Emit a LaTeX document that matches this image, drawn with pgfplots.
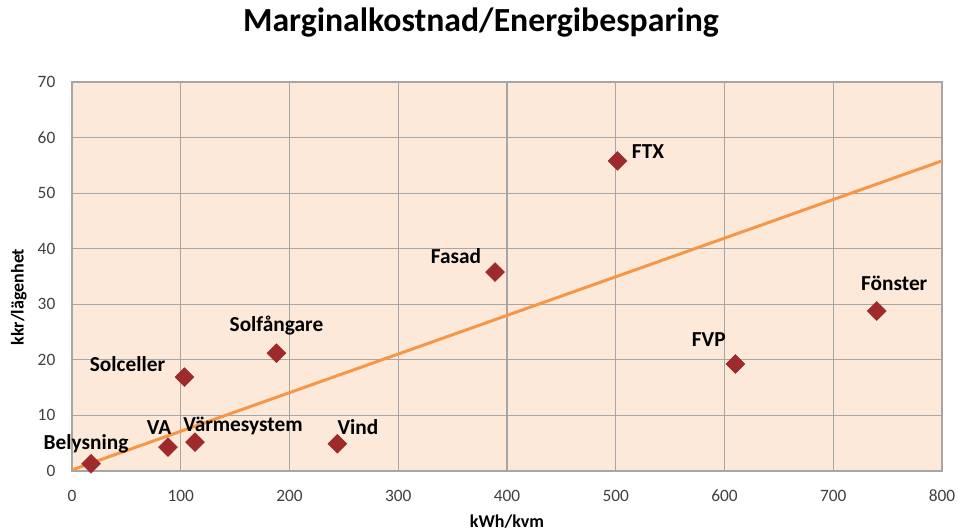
\documentclass[border=0pt]{standalone}
\usepackage{pgfplots}
\pgfplotsset{compat=1.18}
\usepackage{fontspec}
\setmainfont{Carlito}
\definecolor{bgpeach}{HTML}{FDE9D9}
\definecolor{gridgray}{HTML}{A6A6A6}
\definecolor{trend}{HTML}{F79646}
\definecolor{mk}{HTML}{9E2A2B}
\definecolor{ticktext}{HTML}{404040}
\begin{document}
\begin{tikzpicture}
\useasboundingbox (-54pt,-45.75pt) rectangle (664.5pt,353.25pt);
\begin{axis}[
  at={(0,0)}, anchor=south west, scale only axis,
  width=652.5pt, height=291.75pt,
  xmin=0, xmax=800, ymin=0, ymax=70,
  xtick={0,100,...,800}, ytick={0,10,...,70},
  grid=major, major grid style={gridgray, line width=0.8pt},
  axis line style={gridgray, line width=0.8pt},
  major tick length=0pt,
  axis background/.style={fill=bgpeach},
  tick label style={font=\fontsize{13}{15}\selectfont, text=ticktext},
  /pgf/number format/assume math mode=true,
  xticklabel style={anchor=center, yshift=-18.75pt},
  yticklabel style={anchor=east, xshift=-9pt},
  xlabel={kWh/kvm}, ylabel={kkr/lägenhet},
  label style={font=\bfseries\fontsize{13.5}{15}\selectfont},
  xlabel style={at={(axis description cs:0.5,0)}, anchor=center, yshift=-38.25pt},
  ylabel style={at={(axis description cs:-0.061,0.447)}, anchor=center},
  title={Marginalkostnad/Energibesparing},
  title style={at={(axis description cs:0.47,1.108)}, anchor=base, font=\bfseries\fontsize{25.3}{30}\selectfont},
]
\addplot[trend, line width=2.25pt] coordinates {(0,0.2) (800,55.8)};
\addplot[only marks, mark=square*, mark size=5pt,
  mark options={rotate=45, fill=mk, draw=mk},
  point meta=explicit symbolic,
  nodes near coords, nodes near coords align={center},
  visualization depends on={value \thisrow{dx}\as\ldx},
  visualization depends on={value \thisrow{dy}\as\ldy},
  nodes near coords style={anchor=center, xshift=\ldx pt, yshift=\ldy pt,
    font=\bfseries\fontsize{16}{19}\selectfont, text=black}]
  table[meta=label] {
x y dx dy label
17.5 1.3 -3.75 15 Belysning
88.3 4.3 -6.75 15 VA
113.1 5.2 36 12 Värmesystem
244 4.9 15.4 12.75 Vind
103.4 16.9 -42.75 10.1 Solceller
188 21.2 0 21 Solfångare
389 35.8 -29.25 12 Fasad
501.6 55.8 22.9 6.75 FTX
610 19.25 -19.9 18.4 FVP
740 28.8 13.1 20.6 Fönster
};
\end{axis}
\end{tikzpicture}
\end{document}
